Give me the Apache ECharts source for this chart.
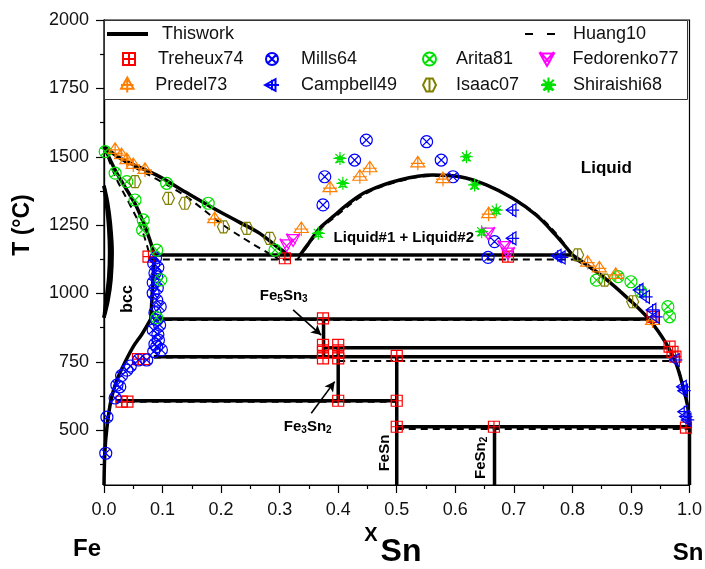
<!DOCTYPE html>
<html><head><meta charset="utf-8">
<script src="https://cdn.jsdelivr.net/npm/echarts@6/dist/echarts.min.js"></script>
<style>html,body{margin:0;padding:0;background:#fff}#c{width:705px;height:569px}</style>
</head><body><div id="c"></div><script>
// ---------- axis ticks ----------
const xTickStep = 0.1;
const yMajorTicks = [500, 750, 1000, 1250, 1500, 1750, 2000];
const yMinorTicks = [375, 625, 875, 1125, 1375, 1625, 1875];

// ---------- This work (solid) phase boundaries ----------
const twLiqFe = [[0,1538],[0.03,1492],[0.09,1433],[0.14,1370],[0.187,1312],[0.23,1262],[0.266,1220],[0.295,1172],[0.315,1141]];
const twSolFe = [[0,1538],[0.02,1448],[0.04,1375],[0.055,1320],[0.068,1255],[0.078,1198],[0.086,1141]];
const twMonotectic = [[0.086,1141],[0.80,1141]];
const twGap = [[0.335,1141],[0.35,1185],[0.369,1240],[0.391,1281],[0.42,1333],[0.448,1372],[0.505,1415],[0.562,1433],[0.608,1427],[0.653,1397],[0.698,1348],[0.738,1287],[0.77,1217],[0.80,1141]];
const twLiqSn = [[0.80,1141],[0.852,1062],[0.898,976],[0.932,903],[0.96,818],[0.977,745],[0.989,659],[0.997,586],[1.0,513]];
const twSnEdge = [[1.0,513],[1.0,300]];
const twSolvusHigh = [[0.086,1141],[0.08,907]];
const twSolvusLow = [[0.08,907],[0.065,852],[0.05,806],[0.035,745],[0.022,684],[0.012,610],[0.005,510],[0.0015,420],[0,300]];
const twGammaOuter = [[0,1394],[0.006,1335],[0.011,1255],[0.014,1150],[0.012,1050],[0.007,975],[0,912]];
const twGammaInner = [[0,1394],[0.004,1330],[0.008,1240],[0.0095,1150],[0.008,1060],[0.004,985],[0,912]];
const twH907 = [[0.084,907],[0.932,907]];
const twH802 = [[0.375,802],[0.962,802]];
const twH769 = [[0.085,769],[0.975,769]];
const twH608 = [[0.02,608],[0.5,608]];
const twH513 = [[0.5,513],[1.0,513]];
const twFe5Sn3 = [[0.375,907],[0.375,769]];
const twFe3Sn2 = [[0.4,802],[0.4,608]];
const twFeSn = [[0.5,769],[0.5,300]];
const twFeSn2 = [[0.667,513],[0.667,300]];

// ---------- Huang10 (dashed) ----------
const hgLiqFe = [[0,1538],[0.03,1488],[0.09,1418],[0.14,1355],[0.204,1250],[0.255,1180],[0.30,1124]];
const hgSolFe = [[0,1538],[0.02,1425],[0.045,1322],[0.065,1232],[0.08,1124]];
const hgMonotectic = [[0.08,1124],[0.805,1124]];
const hgGap = [[0.33,1124],[0.35,1180],[0.37,1236],[0.392,1276],[0.448,1366],[0.505,1411],[0.562,1430],[0.61,1425],[0.656,1395],[0.702,1344],[0.743,1282],[0.776,1210],[0.805,1124]];
const hgLiqSn = [[0.805,1124],[0.855,1058],[0.90,972],[0.934,898],[0.962,812],[0.978,742],[0.99,655],[0.997,580],[1.0,505]];
const hgH903 = [[0.084,903],[0.932,903]];
const hgH766 = [[0.085,766],[0.375,766]];
const hgH753 = [[0.4,753],[0.975,753]];
const hgH604 = [[0.02,604],[0.5,604]];
const hgH505 = [[0.5,505],[1.0,505]];

// ---------- experimental data ----------
const treheux74 = [[0.076,1135],[0.309,1129],[0.69,1135],[0.374,909],[0.374,812],[0.374,787],[0.374,763],[0.40,812],[0.40,787],[0.40,763],[0.40,608],[0.03,605],[0.04,605],[0.058,760],[0.068,760],[0.5,772],[0.5,608],[0.5,513],[0.666,513],[0.966,806],[0.971,787],[0.976,769],[0.937,915],[0.994,510]];
const mills64 = [[0.448,1561],[0.551,1555],[0.377,1427],[0.428,1488],[0.374,1324],[0.576,1488],[0.596,1427],[0.667,1190],[0.656,1132],
  [0.088,1130],[0.085,1110],[0.092,1095],[0.087,1075],[0.09,1062],[0.084,1040],[0.091,1020],[0.084,1001],[0.09,976],[0.096,952],[0.087,930],[0.09,903],[0.095,885],[0.084,867],[0.092,850],[0.093,830],[0.087,815],[0.09,806],[0.098,794],[0.085,788],
  [0.073,757],[0.059,757],[0.045,735],[0.039,720],[0.03,700],[0.027,659],[0.022,665],[0.019,618],[0.005,548],[0.003,416]];
const arita81 = [[0.002,1519],[0.019,1440],[0.039,1409],[0.053,1342],[0.067,1269],[0.066,1232],[0.09,1159],[0.097,1050],[0.107,1403],[0.178,1330],[0.292,1159],[0.09,912],[0.841,1049],[0.878,1062],[0.9,1043],[0.917,1007],[0.963,952],[0.966,915]];
const fedorenko77 = [[0.323,1196],[0.312,1177],[0.656,1220],[0.684,1171],[0.69,1147]];
const predel73 = [[0.019,1525],[0.03,1506],[0.039,1488],[0.05,1470],[0.07,1452],[0.189,1272],[0.337,1236],[0.386,1385],[0.437,1427],[0.454,1458],[0.536,1476],[0.579,1418],[0.657,1290],[0.826,1113],[0.846,1092],[0.874,1068],[0.937,900]];
const campbell49 = [[0.698,1305],[0.698,1202],[0.775,1138],[0.782,1132],[0.915,1013],[0.926,988],[0.937,940],[0.943,915],[0.977,757],[0.989,659],[0.991,645],[0.991,568],[0.994,550],[0.997,538]];
const isaac07 = [[0.053,1409],[0.11,1348],[0.138,1330],[0.204,1244],[0.244,1238],[0.283,1202],[0.809,1141],[0.855,1049],[0.903,970]];
const shiraishi68 = [[0.403,1494],[0.408,1403],[0.366,1220],[0.619,1500],[0.633,1397],[0.67,1305],[0.645,1226]];

// ---------- build ----------
const FONT = '"Liberation Sans", Arial, Helvetica, sans-serif';
const SYM = {
  sqPlus: 'path://M0,0H10V10H0Z M5,0V10 M0,5H10',
  circX: 'path://M10,5A5,5 0 1 1 0,5A5,5 0 1 1 10,5Z M1.5,1.5L8.5,8.5 M8.5,1.5L1.5,8.5',
  triDownX: 'path://M0,1H10L5,10Z M0,0L7,8 M10,0L3,8',
  triUpPlus: 'path://M5,0L10,9L0,9Z M5,0V12 M0,6H10',
  triLeftPlus: 'path://M0,5L9,0V10Z M0,5H12 M6,0.5V9.5',
  hexBar: 'path://M2.5,0H7.5L10,5L7.5,10H2.5L0,5Z M5,0V10',
  star: 'path://M5,0V10 M0,5H10 M1.5,1.5L8.5,8.5 M8.5,1.5L1.5,8.5 M5,2.5L6,4.2L8,4.5L6.5,6L7,8L5,7L3,8L3.5,6L2,4.5L4,4.2Z'
};
function seg(name, data, smooth){
  const dashed = name === 'Huang10';
  return {type:'line', name, data, symbol:'none', showSymbol:false, smooth: smooth?0.35:false, silent:true,
    lineStyle: dashed?{color:'#000',width:2,type:[7,5]}:{color:'#000',width:3.5},
    itemStyle:{color:'#000'}, z: dashed?3:2, animation:false};
}
function sc(name, data, symbol, color, size){
  return {type:'scatter', name, data, symbol, symbolSize:size, z:5, silent:true, animation:false,
    itemStyle:{color:'rgba(0,0,0,0)', borderColor:color, borderWidth:1.2, opacity:1}};
}
const series = [
  seg('Thiswork', twLiqFe, true), seg('Thiswork', twSolFe, true), seg('Thiswork', twMonotectic),
  seg('Thiswork', twGap, true), seg('Thiswork', twLiqSn, true), seg('Thiswork', twSnEdge),
  seg('Thiswork', twSolvusHigh), seg('Thiswork', twSolvusLow, true),
  seg('Thiswork', twGammaOuter, true), seg('Thiswork', twGammaInner, true),
  seg('Thiswork', twH907), seg('Thiswork', twH802), seg('Thiswork', twH769), seg('Thiswork', twH608), seg('Thiswork', twH513),
  seg('Thiswork', twFe5Sn3), seg('Thiswork', twFe3Sn2), seg('Thiswork', twFeSn), seg('Thiswork', twFeSn2),
  seg('Huang10', hgLiqFe, true), seg('Huang10', hgSolFe, true), seg('Huang10', hgMonotectic),
  seg('Huang10', hgGap, true), seg('Huang10', hgLiqSn, true),
  seg('Huang10', hgH903), seg('Huang10', hgH766), seg('Huang10', hgH753), seg('Huang10', hgH604), seg('Huang10', hgH505),
  sc('Treheux74', treheux74, SYM.sqPlus, '#ff0000', 11),
  sc('Mills64', mills64, SYM.circX, '#0000ff', 12),
  sc('Arita81', arita81, SYM.circX, '#00e000', 12),
  sc('Fedorenko77', fedorenko77, SYM.triDownX, '#ff00ff', 13),
  sc('Predel73', predel73, SYM.triUpPlus, '#ff7f00', 14),
  sc('Campbell49', campbell49, SYM.triLeftPlus, '#0000ff', 13),
  sc('Isaac07', isaac07, SYM.hexBar, '#808000', 12),
  sc('Shiraishi68', shiraishi68, SYM.star, '#00e000', 13),
  {type:'line', name:'annot', data:[], silent:true, animation:false,
    markLine:{silent:true, animation:false, symbol:['none','arrow'], symbolSize:[8,10], label:{show:false},
      lineStyle:{color:'#000', width:1.6, type:'solid'},
      emphasis:{disabled:true},
      data:[[{coord:[0.323,940]},{coord:[0.371,848]}],[{coord:[0.354,562]},{coord:[0.394,678]}]]}}
];
function lg(name, left, top, w, h, gap, icon){
  const o = {data:[name], left, top, padding:0, itemWidth:w, itemHeight:h, selectedMode:false,
    textStyle:{fontSize:18, color:'#111', fontFamily:FONT, padding:[0,0,0,gap]}};
  if (icon) o.icon = icon;
  return o;
}
const option = {
  animation:false,
  backgroundColor:'#fff',
  grid:{left:104, right:14, top:20, bottom:84, show:true, borderColor:'#000', borderWidth:1.2, backgroundColor:'transparent'},
  xAxis:{type:'value', min:0, max:1, interval:xTickStep,
    axisLine:{show:true, onZero:false, lineStyle:{color:'#000', width:1.2}},
    axisTick:{show:true, inside:false, length:8, lineStyle:{color:'#000', width:1.2}},
    minorTick:{show:true, splitNumber:2, length:4, lineStyle:{color:'#000', width:1.2}},
    splitLine:{show:false},
    axisLabel:{fontSize:18, color:'#111', fontFamily:FONT, margin:16, formatter:v=>v.toFixed(1)}},
  yAxis:[
    {type:'value', min:300, max:2000,
      axisLine:{show:true, onZero:false, lineStyle:{color:'#000', width:1.2}},
      axisTick:{show:true, inside:false, length:8, customValues:yMajorTicks, lineStyle:{color:'#000', width:1.2}},
      splitLine:{show:false},
      axisLabel:{fontSize:18, color:'#111', fontFamily:FONT, margin:15, customValues:yMajorTicks, formatter:v=>String(Math.round(v))}},
    {type:'value', min:300, max:2000, position:'left', offset:0,
      axisLine:{show:true, onZero:false, lineStyle:{color:'#000', width:1.2}},
      axisLabel:{show:false}, splitLine:{show:false},
      axisTick:{show:true, inside:false, length:4, customValues:yMinorTicks, lineStyle:{color:'#000', width:1.2}}}
  ],
  legend:[
    lg('Thiswork',107,25,41,4,9,'rect'),
    lg('Huang10',525,25,30,2.5,13,'path://M0,0H8V2H0Z M22,0H30V2H22Z'),
    lg('Treheux74',122,50,12,12,18),
    lg('Mills64',265,50,12,12,18),
    lg('Arita81',422,50,13,13,15),
    lg('Fedorenko77',539,50,15,14,13),
    lg('Predel73',120,76,16,15,15),
    lg('Campbell49',264,76,14,14,17),
    lg('Isaac07',422,76,13,13,15),
    lg('Shiraishi68',540,76,15,15,12)
  ],
  series
};
const chart = echarts.init(document.getElementById('c'));
chart.setOption(option);

function P(x,y){ return chart.convertToPixel({xAxisIndex:0, yAxisIndex:0},[x,y]); }
const subRich = {
  n:{fontSize:15, fontWeight:'bold', fontFamily:FONT, fill:'#000', verticalAlign:'top', lineHeight:16},
  s:{fontSize:10, fontWeight:'bold', fontFamily:FONT, fill:'#000', verticalAlign:'bottom', lineHeight:10, padding:[9,0,0,0]}
};
function txt(x, y, text, font, rot, rich){
  const st = {text, font, fill:'#000', textAlign:'center', textVerticalAlign:'middle', align:'center', verticalAlign:'middle'};
  if (rich) st.rich = rich;
  return {type:'text', x, y, rotation:rot||0, silent:true, z:10, style:st};
}
const labels = [
  ['Liquid', 0.858, 1459, 'bold 17px '+FONT, 0, null],
  ['Liquid#1 + Liquid#2', 0.512, 1203, 'bold 15px '+FONT, 0, null],
  ['bcc', 0.041, 980, 'bold 16px '+FONT, Math.PI/2, null],
  ['{n|Fe}{s|5}{n|Sn}{s|3}', 0.307, 990, 'bold 15px '+FONT, 0, subRich],
  ['{n|Fe}{s|3}{n|Sn}{s|2}', 0.348, 512, 'bold 15px '+FONT, 0, subRich],
  ['FeSn', 0.479, 417, 'bold 15px '+FONT, Math.PI/2, null],
  ['{n|FeSn}{s|2}', 0.645, 399, 'bold 15px '+FONT, Math.PI/2, subRich]
];
const graphic = labels.map(l => { const p = P(l[1], l[2]); return txt(p[0], p[1], l[0], l[3], l[4], l[5]); });
graphic.push(txt(23, 225, 'T (°C)', 'bold 23px '+FONT, Math.PI/2));
graphic.push(txt(87, 549, 'Fe', 'bold 24px '+FONT));
graphic.push(txt(688, 553, 'Sn', 'bold 24px '+FONT));
graphic.push(txt(371, 535, 'X', 'bold 20px '+FONT));
graphic.push(txt(401, 552, 'Sn', 'bold 32px '+FONT));
graphic.push({type:'rect', silent:true, z:1, shape:{x:104.5, y:20.5, width:583, height:79}, style:{fill:'#fff', stroke:'#333', lineWidth:1}});
chart.setOption({graphic});
</script></body></html>
